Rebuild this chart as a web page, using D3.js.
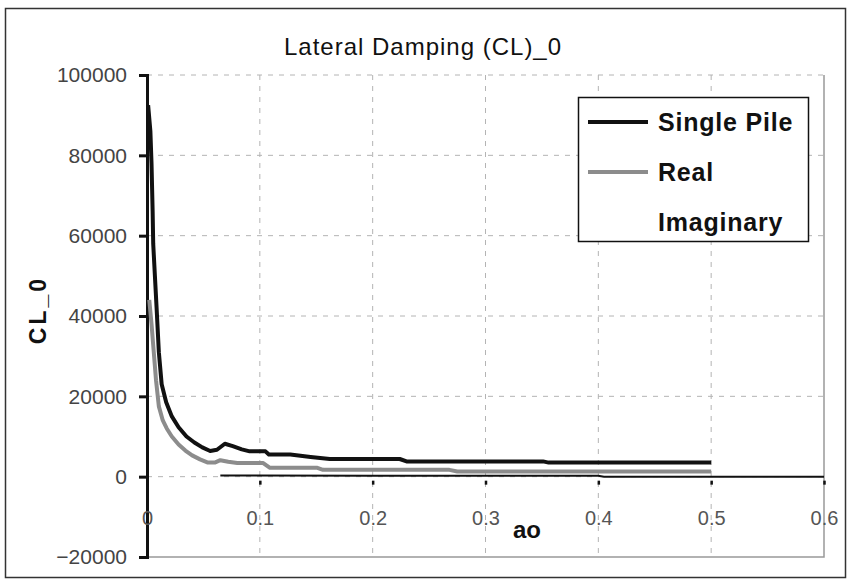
<!DOCTYPE html>
<html>
<head>
<meta charset="utf-8">
<script src="https://cdn.jsdelivr.net/npm/d3@7"></script>
<style>
  body { margin: 0; background: #fff; }
  svg { font-family: "Liberation Sans", Arial, sans-serif; }
</style>
</head>
<body>
<svg width="847" height="580"></svg>
<script>
// data: [ao, CL_0]
var singlePile = [
    [0.001, 92500], [0.003, 86000], [0.004, 78000], [0.005, 66000], [0.0055, 58000],
    [0.007, 50000], [0.0085, 42000], [0.0105, 31000], [0.013, 23000], [0.017, 18500],
    [0.022, 15000], [0.028, 12300], [0.035, 10000], [0.042, 8500], [0.049, 7300],
    [0.056, 6400], [0.062, 6700], [0.069, 8200], [0.076, 7600], [0.084, 6800],
    [0.091, 6300], [0.105, 6300], [0.108, 5500], [0.127, 5500], [0.145, 4900],
    [0.162, 4400], [0.224, 4400], [0.230, 3800], [0.351, 3800], [0.356, 3500],
    [0.5, 3500]
];
var realPart = [
    [0.002, 44000], [0.004, 38000], [0.006, 31000], [0.008, 24000], [0.0105, 17500],
    [0.014, 14000], [0.0175, 12000], [0.022, 10000], [0.028, 8000], [0.034, 6500],
    [0.040, 5300], [0.047, 4300], [0.054, 3500], [0.060, 3500], [0.065, 4100],
    [0.072, 3700], [0.08, 3400], [0.103, 3400], [0.109, 2200], [0.151, 2200],
    [0.156, 1700], [0.268, 1700], [0.275, 1300], [0.5, 1300]
];
var imagPart = [
    [0.065, 300], [0.2, 250], [0.4, 200], [0.405, 0], [0.6, 0]
];
var xTicks = [0, 0.1, 0.2, 0.3, 0.4, 0.5, 0.6];
var yTicks = [-20000, 0, 20000, 40000, 60000, 80000, 100000];
var seriesNames = ["Single Pile", "Real", "Imaginary"];

var svg = d3.select("svg");

var x = d3.scaleLinear().domain([0, 0.6]).range([147, 824]);
var y = d3.scaleLinear().domain([-20000, 100000]).range([557, 75]);

// outer frame
svg.append("rect")
    .attr("x", 5.5).attr("y", 8.5)
    .attr("width", 840).attr("height", 569)
    .attr("fill", "#fff")
    .attr("stroke", "#333")
    .attr("stroke-width", 1.5);

// grid
svg.append("g").selectAll("line")
    .data(yTicks.slice(1))
    .enter().append("line")
    .attr("x1", x(0)).attr("x2", x(0.6))
    .attr("y1", function(d) { return y(d); })
    .attr("y2", function(d) { return y(d); })
    .attr("stroke", "#b4b4b4")
    .attr("stroke-dasharray", "5,6");

svg.append("g").selectAll("line")
    .data(xTicks.slice(1, 6))
    .enter().append("line")
    .attr("y1", y(100000)).attr("y2", y(-20000))
    .attr("x1", function(d) { return x(d); })
    .attr("x2", function(d) { return x(d); })
    .attr("stroke", "#b4b4b4")
    .attr("stroke-dasharray", "5,6");

// plot area border (right + bottom)
svg.append("path")
    .attr("d", "M" + x(0) + "," + y(-20000) + "H" + x(0.6) + "V" + y(100000))
    .attr("fill", "none")
    .attr("stroke", "#999")
    .attr("stroke-width", 1.5);

// y axis
var yAxis = d3.axisLeft(y).tickValues(yTicks).tickSize(8).tickFormat(d3.format("d"));
var gy = svg.append("g")
    .attr("transform", "translate(" + x(0) + ",0)")
    .call(yAxis);
gy.select(".domain").attr("stroke", "#111").attr("stroke-width", 3);
gy.selectAll(".tick line").attr("stroke", "#111").attr("stroke-width", 3);
gy.selectAll(".tick text")
    .attr("x", -20)
    .attr("fill", "#444")
    .style("font-size", "21px")
    .style("font-family", "'Liberation Sans', Arial, sans-serif");

// x axis crossing at 0
var xAxis = d3.axisBottom(x).tickValues(xTicks).tickSize(4).tickFormat(d3.format(".1~f"));
var gx = svg.append("g")
    .attr("transform", "translate(0," + y(0) + ")")
    .call(xAxis);
gx.select(".domain").remove();
gx.selectAll(".tick line").attr("stroke", "#111").attr("stroke-width", 2.5).attr("y1", 4).attr("y2", 8);
gx.selectAll(".tick text")
    .attr("y", 34)
    .attr("fill", "#555")
    .style("font-size", "20px")
    .style("font-family", "'Liberation Sans', Arial, sans-serif");

// lines
var line = d3.line()
    .x(function(d) { return x(d[0]); })
    .y(function(d) { return y(d[1]); });

svg.append("path").datum(imagPart)
    .attr("d", line).attr("fill", "none")
    .attr("stroke", "#111").attr("stroke-width", 2);
svg.append("path").datum(realPart)
    .attr("d", line).attr("fill", "none")
    .attr("stroke", "#8c8c8c").attr("stroke-width", 4)
    .attr("stroke-linejoin", "round");
svg.append("path").datum(singlePile)
    .attr("d", line).attr("fill", "none")
    .attr("stroke", "#111").attr("stroke-width", 4)
    .attr("stroke-linejoin", "round");

// titles
svg.append("text")
    .attr("x", 423).attr("y", 55)
    .attr("text-anchor", "middle")
    .attr("fill", "#111")
    .style("font-size", "24px")
    .style("letter-spacing", "1px")
    .text("Lateral Damping (CL)_0");

svg.append("text")
    .attr("x", 527).attr("y", 538)
    .attr("text-anchor", "middle")
    .attr("fill", "#111")
    .style("font-size", "24px")
    .style("font-weight", "bold")
    .text("ao");

svg.append("text")
    .attr("transform", "translate(46,310) rotate(-90)")
    .attr("text-anchor", "middle")
    .attr("fill", "#111")
    .style("font-size", "23px")
    .style("font-weight", "bold")
    .style("letter-spacing", "3px")
    .text("CL_0");

// legend
var legend = svg.append("g");
legend.append("rect")
    .attr("x", 578.5).attr("y", 97.5)
    .attr("width", 230).attr("height", 144)
    .attr("fill", "#fff")
    .attr("stroke", "#111")
    .attr("stroke-width", 1.5);

var legendColors = ["#111", "#8c8c8c", null];
var rows = legend.selectAll(".row")
    .data(seriesNames)
    .enter().append("g")
    .attr("transform", function(d, i) { return "translate(0," + (122 + i * 50) + ")"; });

rows.filter(function(d, i) { return legendColors[i]; })
    .append("line")
    .attr("x1", 588).attr("x2", 648)
    .attr("stroke", function(d) { return legendColors[seriesNames.indexOf(d)]; })
    .attr("stroke-width", 4);

rows.append("text")
    .attr("x", 658).attr("y", 9)
    .attr("fill", "#111")
    .style("font-size", "25px")
    .style("font-weight", "bold")
    .style("letter-spacing", "0.8px")
    .text(function(d) { return d; });
</script>
</body>
</html>
